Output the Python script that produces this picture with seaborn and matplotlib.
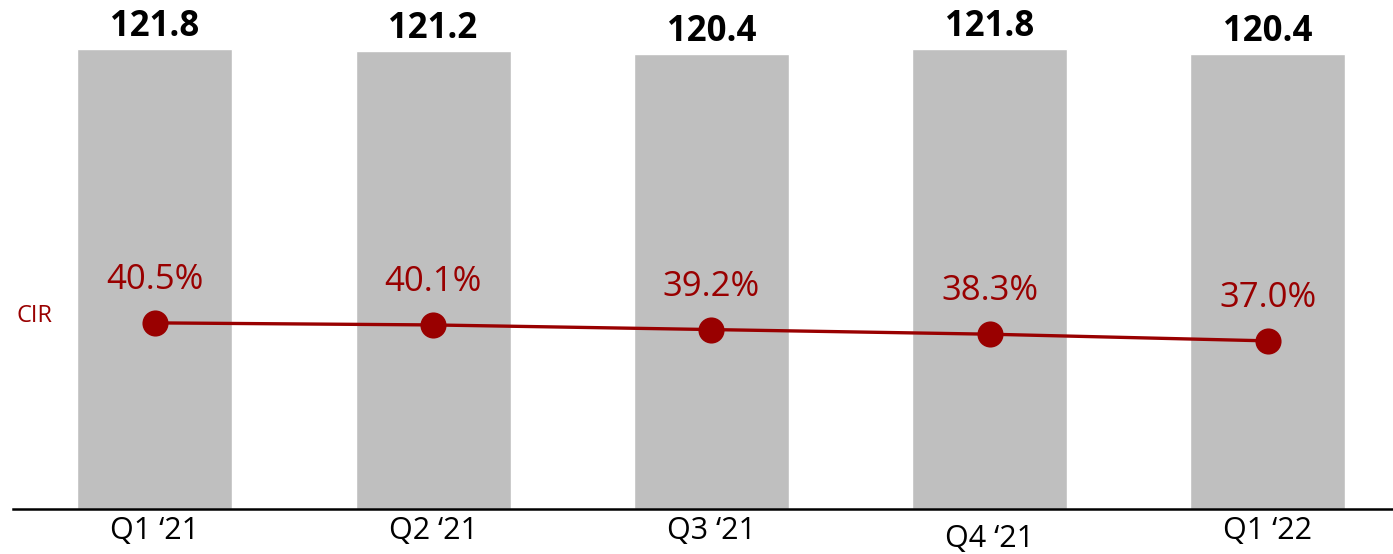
import matplotlib
matplotlib.use("Agg")
import matplotlib.pyplot as plt
import matplotlib.transforms as mtransforms
import seaborn as sns
import pandas as pd

quarters = ["Q1 \u201821", "Q2 \u201821", "Q3 \u201821", "Q4 \u201821", "Q1 \u201822"]
revenue = [121.8, 121.2, 120.4, 121.8, 120.4]
cir = [40.5, 40.1, 39.2, 38.3, 37.0]
cir_labels = ["40.5%", "40.1%", "39.2%", "38.3%", "37.0%"]

sns.set_theme(style="white")
plt.rcParams["font.family"] = ["Open Sans", "DejaVu Sans"]

BAR = "#BFBFBF"
RED = "#990000"

df = pd.DataFrame({"q": quarters, "rev": revenue, "cir": cir})

fig = plt.figure(figsize=(13.93, 5.54), dpi=100)
ax = fig.add_axes([13 / 1393, 1 - 509 / 554, 1 - 13 / 1393, 509 / 554])

sns.barplot(data=df, x="q", y="rev", color=BAR, width=0.557, saturation=1, ax=ax)
ax.set_xlim(-0.51, 4.45)
ax.set_ylim(0, 134.8)
for i, v in enumerate(revenue):
    ax.annotate(f"{v:.1f}", (i, v), xytext=(0, 16), textcoords="offset points",
                ha="center", va="center", fontsize=25, fontweight="bold", color="black")

ax2 = ax.twinx()
sns.pointplot(data=df, x="q", y="cir", color=RED, markers="o", markersize=17,
              linewidth=2.4, ax=ax2, errorbar=None)
ax2.set_ylim(4.3, 103.3)
ax2.set_xlim(-0.51, 4.45)
for i, (v, lab) in enumerate(zip(cir, cir_labels)):
    ax2.annotate(lab, (i, v), xytext=(0, 31), textcoords="offset points",
                 ha="center", va="center", fontsize=25, color=RED)

for a in (ax, ax2):
    for s in ["top", "right", "left"]:
        a.spines[s].set_visible(False)
    a.set_yticks([])
    a.set_ylabel("")
    a.set_xlabel("")
ax2.spines["bottom"].set_visible(False)
ax.spines["bottom"].set_color("black")
ax.spines["bottom"].set_linewidth(1.8)
ax.tick_params(axis="x", length=0, pad=5, labelsize=22, colors="black")
ax2.tick_params(axis="x", length=0, labelbottom=False)

labels = ax.get_xticklabels()
labels[3].set_transform(labels[3].get_transform() +
                        mtransforms.ScaledTranslation(0, -8 / 100, fig.dpi_scale_trans))

fig.text(35 / 1393, 1 - 316 / 554, "CIR", ha="center", va="center", fontsize=17, color=RED)

fig.savefig("out.png", dpi=100)
